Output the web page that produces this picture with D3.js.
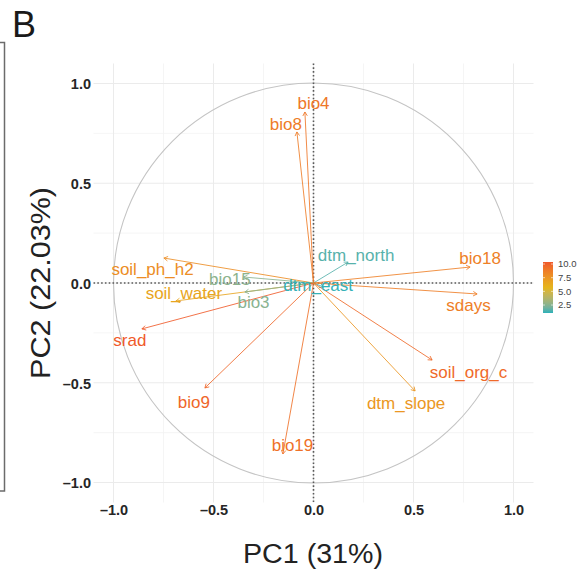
<!DOCTYPE html>
<html><head><meta charset="utf-8">
<script src="https://cdn.jsdelivr.net/npm/d3@7"></script>
<style>body{margin:0;background:#fff}svg{display:block;font-family:"Liberation Sans",Arial,sans-serif}</style>
</head><body>
<svg id="c" width="578" height="569"></svg>
<script>
// ---- data ----
const variables = ["bio4","bio8","soil_ph_h2","bio15","soil_water","bio3","srad","bio9","bio19","dtm_north","dtm_east","bio18","sdays","soil_org_c","dtm_slope"];
const pc1 = [-0.043,-0.083,-0.748,-0.350,-0.688,-0.343,-0.858,-0.543,-0.153,0.173,0.050,0.783,0.818,0.593,0.508];
const pc2 = [0.857,0.757,0.125,0.030,-0.090,-0.045,-0.230,-0.526,-0.857,0.105,-0.020,0.080,-0.055,-0.386,-0.541];
const contrib = [9.0,8.8,7.9,2.6,6.6,2.5,10.3,9.8,9.3,1.5,1.1,8.6,8.7,9.6,7.4];
const labelX = [0.000,-0.138,-0.805,-0.418,-0.648,-0.300,-0.918,-0.598,-0.105,0.213,0.023,0.833,0.775,0.775,0.463];
const labelY = [0.900,0.795,0.070,0.018,-0.048,-0.095,-0.286,-0.596,-0.812,0.140,-0.010,0.123,-0.110,-0.446,-0.600];
const axisTicks = [-1.0,-0.5,0.0,0.5,1.0];
const minorTicks = [-0.75,-0.25,0.25,0.75];
const legendTicks = [2.5,5.0,7.5,10.0];
const contribRange = [1.04,10.37];
const gradientCols = ["#2DB1B9","#E5B51C","#F0582A"];

const svg = d3.select("#c");
const x = d3.scaleLinear().domain([-1.1,1.1]).range([93.5,533.5]);
const y = d3.scaleLinear().domain([-1.1,1.1]).range([502.5,63.5]);
const col = d3.scaleLinear()
  .domain([contribRange[0],(contribRange[0]+contribRange[1])/2,contribRange[1]])
  .range(gradientCols).interpolate(d3.interpolateLab);

// panel label & bracket from neighbouring panel
svg.append("path").attr("d","M0,42.5H4.5V491H0").attr("fill","none").attr("stroke","#6b6b6b").attr("stroke-width",1.5);
svg.append("text").attr("x",12).attr("y",37).attr("font-size",36).attr("fill","#1a1a1a").text("B");

// grid
const g = svg.append("g");
g.selectAll(".mnx").data(minorTicks).join("line")
  .attr("x1",d=>x(d)).attr("x2",d=>x(d)).attr("y1",y.range()[1]).attr("y2",y.range()[0])
  .attr("stroke","#f3f3f3").attr("stroke-width",0.8);
g.selectAll(".mny").data(minorTicks).join("line")
  .attr("y1",d=>y(d)).attr("y2",d=>y(d)).attr("x1",x.range()[0]).attr("x2",x.range()[1])
  .attr("stroke","#f3f3f3").attr("stroke-width",0.8);
g.selectAll(".mjx").data(axisTicks).join("line")
  .attr("x1",d=>x(d)).attr("x2",d=>x(d)).attr("y1",y.range()[1]).attr("y2",y.range()[0])
  .attr("stroke","#ebebeb").attr("stroke-width",1);
g.selectAll(".mjy").data(axisTicks).join("line")
  .attr("y1",d=>y(d)).attr("y2",d=>y(d)).attr("x1",x.range()[0]).attr("x2",x.range()[1])
  .attr("stroke","#ebebeb").attr("stroke-width",1);

// axes (tick labels only)
const xAxis = d3.axisBottom(x).tickValues(axisTicks).tickSize(0).tickPadding(0);
const yAxis = d3.axisLeft(y).tickValues(axisTicks).tickSize(0).tickPadding(0);
const fmtTick = d => d3.format(".1f")(d).replace("-","\u2013").replace("\u2212","\u2013");
svg.append("g").attr("transform","translate(0,505)").call(xAxis)
  .call(a=>a.select(".domain").remove())
  .call(a=>a.selectAll("text").attr("font-size",14.5).attr("fill","#262626").attr("font-weight",600).attr("dy","0.71em").attr("font-family","Liberation Sans, Arial").text(fmtTick));
svg.append("g").attr("transform","translate(91,0)").call(yAxis)
  .call(a=>a.select(".domain").remove())
  .call(a=>a.selectAll("text").attr("font-size",14.5).attr("fill","#262626").attr("font-weight",600).attr("dy","0.36em").attr("font-family","Liberation Sans, Arial").text(fmtTick));

// correlation circle
svg.append("circle").attr("cx",x(0)).attr("cy",y(0)).attr("r",x(1)-x(0))
  .attr("fill","none").attr("stroke","#c4c4c4").attr("stroke-width",1.1);

// zero lines
svg.append("line").attr("x1",x.range()[0]).attr("x2",x.range()[1]).attr("y1",y(0)).attr("y2",y(0))
  .attr("stroke","#5a5a5a").attr("stroke-width",1.6).attr("stroke-dasharray","1.6,2.2");
svg.append("line").attr("y1",y.range()[1]).attr("y2",y.range()[0]).attr("x1",x(0)).attr("x2",x(0))
  .attr("stroke","#5a5a5a").attr("stroke-width",1.6).attr("stroke-dasharray","1.6,2.2");

// arrows
const data = variables.map((v,i)=>({name:v,x:pc1[i],y:pc2[i],c:contrib[i],lx:labelX[i],ly:labelY[i]}));
const ag = svg.append("g");
data.forEach(d=>{
  const x0=x(0), y0=y(0), x1=x(d.x), y1=y(d.y);
  const ang=Math.atan2(y1-y0,x1-x0), L=4.5, a=Math.PI/6;
  const p = `M${x0},${y0}L${x1},${y1}`+
    `M${x1-L*Math.cos(ang-a)},${y1-L*Math.sin(ang-a)}L${x1},${y1}L${x1-L*Math.cos(ang+a)},${y1-L*Math.sin(ang+a)}`;
  ag.append("path").attr("d",p).attr("fill","none").attr("stroke",col(d.c)).attr("stroke-width",1).attr("stroke-opacity",0.85);
});
svg.append("g").selectAll("text").data(data).join("text")
  .attr("x",d=>x(d.lx)).attr("y",d=>y(d.ly)).attr("dy","0.35em").attr("text-anchor","middle")
  .attr("font-size",17).attr("fill",d=>col(d.c)).text(d=>d.name);

// axis titles
svg.append("text").attr("x",313).attr("y",563).attr("text-anchor","middle").attr("font-size",27)
  .attr("fill","#222").attr("textLength",140).attr("lengthAdjust","spacingAndGlyphs").text("PC1 (31%)");
svg.append("text").attr("transform","translate(50,283) rotate(-90)").attr("text-anchor","middle").attr("font-size",27)
  .attr("fill","#222").attr("textLength",192).attr("lengthAdjust","spacingAndGlyphs").text("PC2 (22.03%)");

// legend
const defs = svg.append("defs");
const lg = defs.append("linearGradient").attr("id","lg").attr("x1",0).attr("x2",0).attr("y1",1).attr("y2",0);
d3.range(0,1.0001,0.1).forEach(t=>{
  lg.append("stop").attr("offset",t).attr("stop-color",col(contribRange[0]+t*(contribRange[1]-contribRange[0])));
});
const ly = d3.scaleLinear().domain(contribRange).range([313,262]);
svg.append("rect").attr("x",543).attr("y",262).attr("width",10).attr("height",51).attr("fill","url(#lg)");
const lgT = svg.append("g");
lgT.selectAll("line.l").data(legendTicks).join("line").attr("x1",543).attr("x2",545).attr("y1",d=>ly(d)).attr("y2",d=>ly(d)).attr("stroke","#fff").attr("stroke-width",0.6);
lgT.selectAll("line.r").data(legendTicks).join("line").attr("x1",551).attr("x2",553).attr("y1",d=>ly(d)).attr("y2",d=>ly(d)).attr("stroke","#fff").attr("stroke-width",0.6);
lgT.selectAll("text").data(legendTicks).join("text").attr("x",558).attr("y",d=>ly(d)).attr("dy","0.35em")
  .attr("font-size",9.5).attr("fill","#444").text(d=>d3.format(".1f")(d));
</script>
</body></html>
